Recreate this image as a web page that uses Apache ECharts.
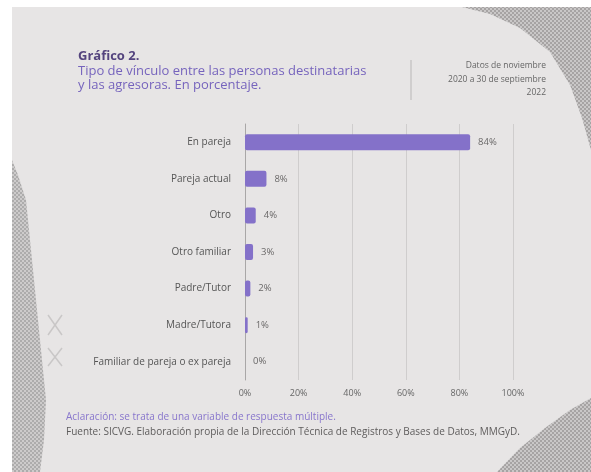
<!DOCTYPE html>
<html>
<head>
<meta charset="utf-8">
<script src="https://cdn.jsdelivr.net/npm/echarts@6/dist/echarts.min.js"></script>
<style>
html,body{margin:0;padding:0;background:#fff;}
#c{width:591px;height:472px;}
</style>
</head>
<body>
<div id="c"></div>
<script>
var categories = ['En pareja','Pareja actual','Otro','Otro familiar','Padre/Tutor','Madre/Tutora','Familiar de pareja o ex pareja'];
var values = [84, 8, 4, 3, 2, 1, 0];
var tickLabels = ['0%','20%','40%','60%','80%','100%'];

function hatch(){
  var cv = document.createElement('canvas');
  cv.width = 4; cv.height = 4;
  var g = cv.getContext('2d');
  g.fillStyle = '#c4c2c2'; g.fillRect(0,0,4,4);
  g.fillStyle = '#9a9898';
  g.fillRect(0,0,2,2); g.fillRect(2,2,2,2);
  return {image: cv, repeat: 'repeat'};
}
var pat = hatch();

var chart = echarts.init(document.getElementById('c'), null, {renderer:'canvas'});
var fontFam = '"Open Sans", "Noto Sans", sans-serif';
chart.setOption({
  backgroundColor: '#ffffff',
  animation: false,
  graphic: [
    {type:'rect', z:-10, shape:{x:12,y:7,width:579,height:465}, style:{fill:'#e7e5e5'}},
    {type:'polygon', z:-9, shape:{points:[[462,7],[591,7],[591,150],[582,118],[570,85],[550,52],[520,28],[490,14]]}, style:{fill:pat, opacity:0.85}},
    {type:'polygon', z:-9, shape:{points:[[497,472],[591,472],[591,398],[570,410],[545,428],[520,448]]}, style:{fill:pat, opacity:0.85}},
    {type:'polygon', z:-9, shape:{points:[[12,160],[18,175],[26,200],[30,240],[34,280],[38,320],[42,360],[46,400],[44,440],[40,472],[12,472]]}, style:{fill:pat, opacity:0.75}},
    {type:'line', z:-8, shape:{x1:48,y1:315,x2:62,y2:335}, style:{stroke:'#c9c7c7',lineWidth:1.5}},
    {type:'line', z:-8, shape:{x1:62,y1:315,x2:48,y2:335}, style:{stroke:'#c9c7c7',lineWidth:1.5}},
    {type:'line', z:-8, shape:{x1:48,y1:348,x2:62,y2:366}, style:{stroke:'#c9c7c7',lineWidth:1.5}},
    {type:'line', z:-8, shape:{x1:62,y1:348,x2:48,y2:366}, style:{stroke:'#c9c7c7',lineWidth:1.5}},
    {type:'text', x:78, y:50, style:{text:'Gráfico 2.', font:'bold 13px '+fontFam, fill:'#54447e'}},
    {type:'text', x:78, y:64, style:{text:'Tipo de vínculo entre las personas destinatarias\ny las agresoras. En porcentaje.', font:'13px '+fontFam, fill:'#7664bd', lineHeight:14}},
    {type:'line', shape:{x1:411,y1:60,x2:411,y2:100}, style:{stroke:'#b9b7b7',lineWidth:1}},
    {type:'text', x:546, y:59, style:{text:'Datos de noviembre\n2020 a 30 de septiembre\n2022', font:'8.5px '+fontFam, fill:'#666', align:'right', lineHeight:13.5}},
    {type:'text', x:66, y:412, style:{text:'Aclaración: se trata de una variable de respuesta múltiple.', font:'10px '+fontFam, fill:'#8876cc'}},
    {type:'text', x:66, y:427, style:{text:'Fuente: SICVG. Elaboración propia de la Dirección Técnica de Registros y Bases de Datos, MMGyD.', font:'10px '+fontFam, fill:'#5e5c5c'}}
  ],
  grid: {left:245, right:78, top:124, bottom:92, containLabel:false},
  xAxis: {
    type:'value', min:0, max:100, interval:20,
    axisLine:{show:false}, axisTick:{show:false},
    splitLine:{show:true, lineStyle:{color:'#cfcdcd', width:1}},
    axisLabel:{margin:9, fontSize:9, fontFamily:fontFam, color:'#666',
      formatter:function(v){ return tickLabels[Math.round(v/20)]; }}
  },
  yAxis: {
    type:'category', data:categories, inverse:true,
    axisLine:{show:true, lineStyle:{color:'#a9a7a7', width:1}},
    axisTick:{show:false},
    axisLabel:{margin:14, fontSize:10, fontFamily:fontFam, color:'#555'}
  },
  series: [{
    type:'bar', data:values, barWidth:16,
    itemStyle:{color:'#8471c9', borderRadius:2},
    label:{show:true, position:'right', distance:8, formatter:'{c}%', fontSize:9.5, fontFamily:fontFam, color:'#6a6868'}
  }]
});
</script>
</body>
</html>
